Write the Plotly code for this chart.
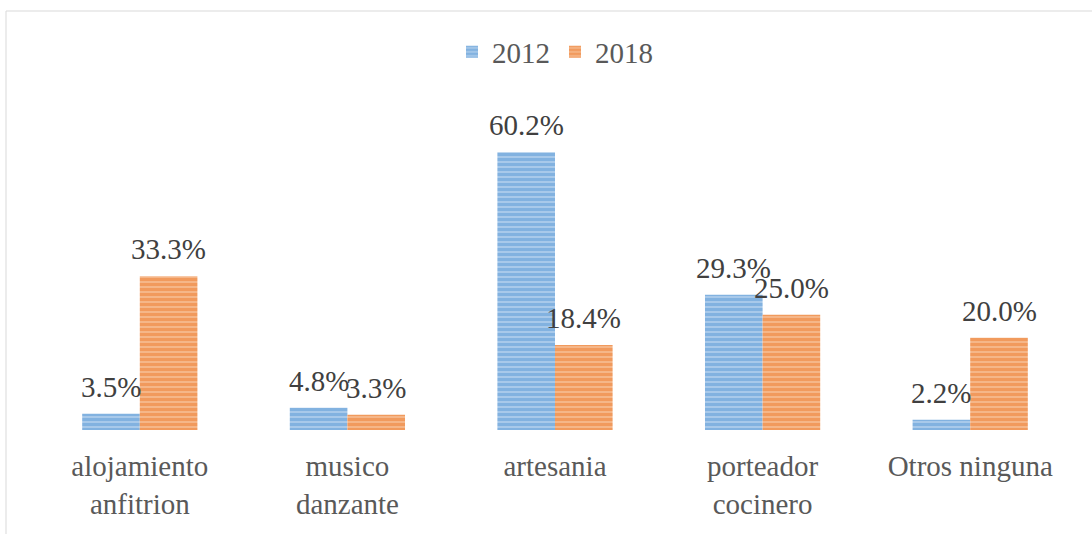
import plotly.graph_objects as go

# datos del gráfico
categorias = ["alojamiento<br>anfitrion", "musico<br>danzante", "artesania",
              "porteador<br>cocinero", "Otros ninguna"]
anios = ["2012", "2018"]
valores_2012 = [3.5, 4.8, 60.2, 29.3, 2.2]
valores_2018 = [33.3, 3.3, 18.4, 25.0, 20.0]

W, H = 1092, 534
ML, MR, MT, MB = 36, 18, 107, 104
pw = W - ML - MR
ph = H - MT - MB
bargap = 0.445
ancho_barra = pw / len(categorias) * (1 - bargap) / 2

fuente = "Liberation Serif"
tam = 29

fig = go.Figure()
for nombre, vals, fg, bg in [(anios[0], valores_2012, "#5b9bd5", "#a8c9ea"),
                             (anios[1], valores_2018, "#ed7d31", "#f5b688")]:
    fig.add_trace(go.Bar(
        x=categorias, y=vals, name=nombre,
        marker=dict(color=fg, line=dict(width=0),
                    pattern=dict(shape="-", fgcolor=fg, bgcolor=bg,
                                 size=5, solidity=0.6)),
    ))

# etiquetas de datos encima de cada barra
for i, vals in enumerate([valores_2012, valores_2018]):
    desp = (i - 0.5) * ancho_barra
    for c, v in zip(categorias, vals):
        fig.add_annotation(x=c, y=v, text=f"{v:.1f}%", showarrow=False,
                           xshift=desp, yanchor="bottom", yshift=9,
                           font=dict(family=fuente, size=tam, color="#404040"))

# marco del gráfico (solo borde superior e izquierdo visibles)
x_izq = (6 - ML) / pw
y_sup = (H - MB - 11) / ph
fig.add_shape(type="line", xref="paper", yref="paper",
              x0=x_izq, x1=x_izq, y0=-MB / ph, y1=y_sup,
              line=dict(color="#d9d9d9", width=1))
fig.add_shape(type="line", xref="paper", yref="paper",
              x0=x_izq, x1=(W - ML) / pw, y0=y_sup, y1=y_sup,
              line=dict(color="#d9d9d9", width=1))

fig.update_layout(
    width=W, height=H,
    margin=dict(l=ML, r=MR, t=MT, b=MB),
    paper_bgcolor="white", plot_bgcolor="white",
    barmode="group", bargap=bargap, bargroupgap=0,
    font=dict(family=fuente, size=tam, color="#595959"),
    showlegend=True,
    legend=dict(orientation="h", x=0.5, xanchor="center",
                y=(H - MB - 52) / ph, yanchor="middle",
                font=dict(family=fuente, size=tam, color="#595959"),
                itemwidth=30, traceorder="normal"),
    xaxis=dict(showline=False, showgrid=False, ticks="",
               ticklabelstandoff=16,
               tickfont=dict(family=fuente, size=tam, color="#595959")),
    yaxis=dict(range=[0, 70], visible=False, showgrid=False),
)

fig.write_html("out.html", config={"displayModeBar": False},
               post_script="document.body.style.margin='0';")
